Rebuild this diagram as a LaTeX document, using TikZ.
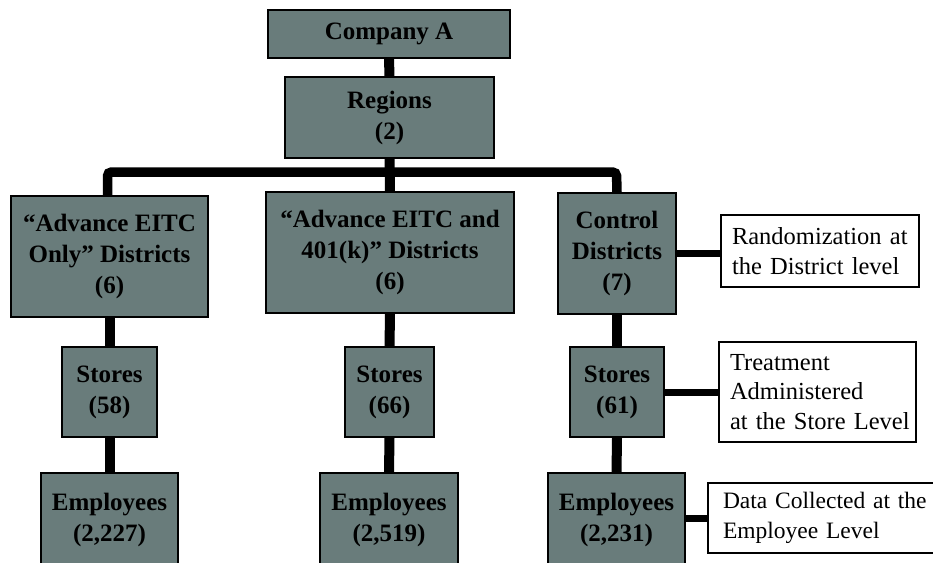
\documentclass[tikz,border=0pt]{standalone}
\usepackage{fontspec}
\setmainfont{Liberation Serif}
\definecolor{boxfill}{RGB}{105,124,123}
\begin{document}
\begin{tikzpicture}[x=1pt,y=-1pt,
  gbox/.style={draw=black, line width=1.3pt, fill=boxfill, inner sep=0pt, align=center,
    font=\fontsize{25}{31}\selectfont\bfseries},
  wbox/.style={draw=black, line width=1.3pt, fill=white, inner sep=0pt, align=left,
    font=\fontsize{24.5}{29.5}\selectfont},
  thick conn/.style={line width=10pt},
  side conn/.style={line width=7pt}]
\useasboundingbox (0,0) rectangle (933,562);
\clip (0,0) rectangle (933,562);
% nodes
\node[gbox, minimum width=242pt, minimum height=48pt] (comp) at (389,34) {Company A};
\node[gbox, minimum width=209pt, minimum height=81pt] (reg) at (389.5,117.5) {Regions\\(2)};
\node[gbox, minimum width=197pt, minimum height=121pt] (d1) at (109.5,256.5) {``Advance EITC\\Only'' Districts\\(6)};
\node[gbox, minimum width=248pt, minimum height=121pt] (d2) at (390,252.5) {``Advance EITC and\\401(k)'' Districts\\(6)};
\node[gbox, minimum width=118pt, minimum height=121pt] (d3) at (617,253.5) {Control\\Districts\\(7)};
\node[gbox, minimum width=95pt, minimum height=90pt] (s1) at (109.5,392) {Stores\\(58)};
\node[gbox, minimum width=89pt, minimum height=90pt] (s2) at (389.5,392) {Stores\\(66)};
\node[gbox, minimum width=94pt, minimum height=90pt] (s3) at (617,392) {Stores\\(61)};
\node[gbox, minimum width=137pt, minimum height=94pt] (e1) at (109.5,520) {Employees\\(2,227)};
\node[gbox, minimum width=138pt, minimum height=94pt] (e2) at (389,520) {Employees\\(2,519)};
\node[gbox, minimum width=137pt, minimum height=94pt] (e3) at (616.5,520) {Employees\\(2,231)};
\node[wbox, minimum width=198pt, minimum height=72pt, text width=176pt] (r1) at (820,251) {\mbox{Randomization at}\\\mbox{the District level}};
\node[wbox, minimum width=197pt, minimum height=100pt, text width=175pt] (r2) at (817.5,392) {\mbox{Treatment}\\\mbox{Administered}\\\mbox{at the Store Level}};
\node[wbox, minimum width=230pt, minimum height=70pt, text width=200pt, font=\fontsize{23.5}{29.5}\selectfont] (r3) at (823,518) {\mbox{Data Collected at the}\\\mbox{Employee Level}};
% connectors
\draw[thick conn] (comp.south) -- (reg.north);
\draw[thick conn] (reg.south) -- (d2.north);
\draw[line width=9.5pt, rounded corners=4pt] ([xshift=-2pt]d1.north) |- (616.5,172) -- (d3.north);
\draw[thick conn] (d1.south) -- (s1.north);
\draw[thick conn] (d2.south) -- (s2.north);
\draw[thick conn] (d3.south) -- (s3.north);
\draw[thick conn] (s1.south) -- (e1.north);
\draw[thick conn] (s2.south) -- (e2.north);
\draw[thick conn] (s3.south) -- (e3.north);
\draw[side conn] (d3.east) -- (d3.east -| r1.west);
\draw[side conn] (s3.east) -- (r2.west);
\draw[side conn] ([yshift=1.5pt]e3.east) -- ([yshift=1.5pt]e3.east -| r3.west);
\end{tikzpicture}
\end{document}
